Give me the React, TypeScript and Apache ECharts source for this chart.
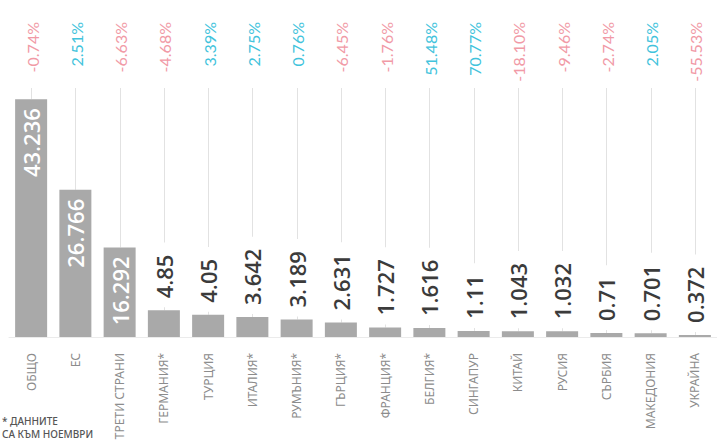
import React, { useEffect, useRef } from "react";
import * as echarts from "echarts";

const categories = [
  "ОБЩО", "ЕС", "ТРЕТИ СТРАНИ", "ГЕРМАНИЯ*", "ТУРЦИЯ", "ИТАЛИЯ*", "РУМЪНИЯ*", "ГЪРЦИЯ*",
  "ФРАНЦИЯ*", "БЕЛГИЯ*", "СИНГАПУР", "КИТАЙ", "РУСИЯ", "СЪРБИЯ", "МАКЕДОНИЯ", "УКРАЙНА",
];
const values = [
  43.236, 26.766, 16.292, 4.85, 4.05, 3.642, 3.189, 2.631,
  1.727, 1.616, 1.11, 1.043, 1.032, 0.71, 0.701, 0.372,
];
const changes = [
  -0.74, 2.51, -6.63, -4.68, 3.39, 2.75, 0.76, -6.45,
  -1.76, 51.48, 70.77, -18.1, -9.46, -2.74, 2.05, -55.53,
];
const footnote = ["* ДАННИТЕ", "СА КЪМ НОЕМВРИ"];

const NEG = "#f19aa6";
const POS = "#42c3dc";

export default function App() {
  const ref = useRef<HTMLDivElement>(null);
  useEffect(() => {
    if (!ref.current) return;
    const chart = echarts.init(ref.current, undefined, { renderer: "svg" });
    const insideLabel = {
      show: true,
      position: "insideTop",
      rotate: 90,
      align: "right",
      verticalAlign: "middle",
      distance: 9,
      color: "#ffffff",
      fontSize: 22,
      fontWeight: 600,
      fontFamily: "Open Sans",
    };
    const outsideLabel = {
      show: true,
      position: "top",
      rotate: 90,
      align: "left",
      verticalAlign: "middle",
      distance: 3,
      color: "#3b3b3b",
      fontSize: 22,
      fontWeight: 600,
      fontFamily: "Open Sans",
      backgroundColor: "#ffffff",
      padding: [0, 12, 0, 9],
    };
    chart.setOption({
      animation: false,
      grid: { left: 9, width: 710, top: 62, height: 275 },
      xAxis: {
        type: "category",
        data: categories,
        offset: 8,
        axisTick: { show: false },
        axisLine: { show: true, lineStyle: { color: "#ebebeb", width: 1 } },
        axisLabel: {
          rotate: 90,
          interval: 0,
          margin: 8,
          fontSize: 12,
          color: "#8c8c8c",
          fontFamily: "Noto Sans",
        },
      },
      yAxis: { type: "value", min: 0, max: 50, show: false, splitLine: { show: false } },
      series: [
        {
          type: "custom",
          z: 1,
          silent: true,
          data: values.map((v, i) => [i, v]),
          encode: { x: 0, y: 1 },
          renderItem: (params: any, api: any) => {
            const i = api.value(0);
            const v = api.value(1);
            const p = api.coord([i, v]);
            const cs = params.coordSys;
            const x = Math.round(p[0]) + 0.5;
            const c = changes[i];
            return {
              type: "group",
              children: [
                {
                  type: "line",
                  shape: { x1: x, y1: cs.y + 26, x2: x, y2: p[1] },
                  style: { stroke: "#e2e2e2", lineWidth: 1 },
                },
                {
                  type: "text",
                  x: p[0] + 1,
                  y: cs.y - 40,
                  rotation: Math.PI / 2,
                  style: {
                    text: c.toFixed(2) + "%",
                    fill: c < 0 ? NEG : POS,
                    fontSize: 16,
                    fontFamily: "Lato",
                    align: "right",
                    verticalAlign: "middle",
                  },
                },
              ],
            };
          },
        },
        {
          type: "bar",
          z: 2,
          barWidth: 32,
          itemStyle: { color: "#a9a9a9" },
          data: values.map((v) => ({ value: v, label: v > 10 ? insideLabel : outsideLabel })),
          label: { formatter: (p: any) => String(p.value) },
        },
      ],
      graphic: [
        {
          type: "text",
          left: 2,
          top: 414,
          style: {
            text: footnote.join("\n"),
            fontSize: 10,
            lineHeight: 13,
            fill: "#555555",
            fontWeight: 500,
            fontFamily: "Noto Sans",
          },
        },
      ],
    });
    return () => chart.dispose();
  }, []);
  return (
    <div
      ref={ref}
      style={{ position: "fixed", left: 0, top: 0, width: 717, height: 446, background: "#fff" }}
    />
  );
}
